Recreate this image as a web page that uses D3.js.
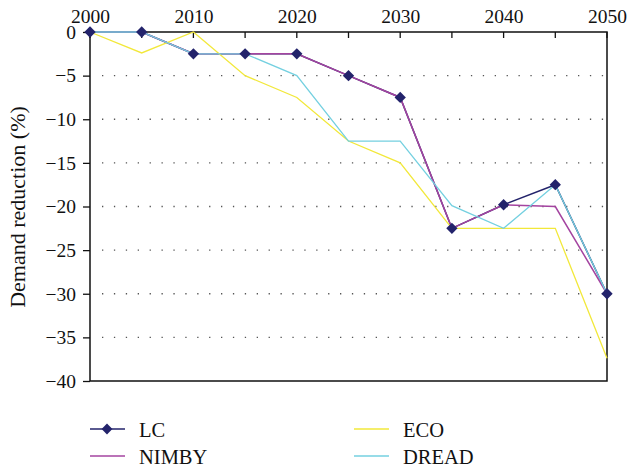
<!DOCTYPE html>
<html><head><meta charset="utf-8">
<script src="https://cdn.jsdelivr.net/npm/d3@7"></script>
<style>body{margin:0;background:#fff}text{font-family:"Liberation Serif","DejaVu Serif",serif;fill:#111}</style>
</head><body><svg id="c" width="630" height="469"></svg>
<script>
const years = [2000,2005,2010,2015,2020,2025,2030,2035,2040,2045,2050];
const lc    = [0,0,-2.5,-2.5,-2.5,-5,-7.5,-22.5,-19.8,-17.5,-30];
const nimby = [0,0,-2.5,-2.5,-2.5,-5,-7.5,-22.5,-19.8,-20,-30];
const eco   = [0,-2.4,0,-5,-7.5,-12.5,-15,-22.5,-22.5,-22.5,-37.4];
const dread = [0,0,-2.5,-2.5,-5,-12.5,-12.5,-19.9,-22.5,-17.5,-30];
const yTicks = [0,-5,-10,-15,-20,-25,-30,-35,-40];
const xLabels = [2000,2010,2020,2030,2040,2050];
const seriesNames = ["LC","NIMBY","ECO","DREAD"];
const colors = {LC:"#23236b",NIMBY:"#a444a0",ECO:"#f2e83a",DREAD:"#74d0e0"};

const svg = d3.select("#c");
const L=90,R=607,T=32,B=381;
const x = d3.scaleLinear().domain([2000,2050]).range([L,R]);
const y = d3.scaleLinear().domain([0,-40]).range([T,B]);

// grid
svg.append("g").selectAll("line").data(yTicks.filter(d=>d!==0&&d!==-40)).join("line")
  .attr("x1",L+12).attr("x2",R-2).attr("y1",d=>y(d)).attr("y2",d=>y(d))
  .attr("stroke","#555").attr("stroke-width",1.3).attr("stroke-dasharray","1.3,10.6");

// axes
const ya = svg.append("g").attr("transform",`translate(${L},0)`)
  .call(d3.axisLeft(y).tickValues(yTicks).tickSize(7).tickPadding(7).tickFormat(d=>d===0?"0":"\u2212"+Math.abs(d)));
ya.select(".domain").remove();
ya.selectAll("text").style("font-size","19.5px").attr("dy","0.32em");
const xa = svg.append("g").attr("transform",`translate(0,${T})`)
  .call(d3.axisTop(x).tickValues(years).tickSize(0).tickPadding(9).tickFormat(d=>xLabels.includes(d)?d:""));
xa.select(".domain").remove();
xa.selectAll("text").style("font-size","19.5px");
svg.append("g").selectAll("line").data(years).join("line")
  .attr("x1",d=>x(d)).attr("x2",d=>x(d)).attr("y1",T).attr("y2",T+6).attr("stroke","#111").attr("stroke-width",1.3);
svg.append("path").attr("d",`M${L},${T}H${R}V${B}H${L}Z`).attr("fill","none").attr("stroke","#111").attr("stroke-width",1.5);
svg.selectAll(".tick line").attr("stroke","#111").attr("stroke-width",1.3);

svg.append("text").attr("transform",`translate(25,207) rotate(-90)`).attr("text-anchor","middle")
  .style("font-size","22px").text("Demand reduction (%)");

const data = {LC:lc,NIMBY:nimby,ECO:eco,DREAD:dread};
const line = d3.line().x((d,i)=>x(years[i])).y(d=>y(d));
const widths = {LC:1.5,NIMBY:1.5,ECO:1.3,DREAD:1.3};
seriesNames.forEach(n=>{
  svg.append("path").attr("d",line(data[n])).attr("fill","none").attr("stroke",colors[n]).attr("stroke-width",widths[n]);
});
svg.append("g").selectAll("path").data(lc).join("path")
  .attr("transform",(d,i)=>`translate(${x(years[i])},${y(d)}) rotate(45)`)
  .attr("d",d3.symbol().type(d3.symbolSquare).size(64)).attr("fill",colors.LC);

// legend
const leg = [{n:"LC",x:90,y:429},{n:"NIMBY",x:90,y:456},{n:"ECO",x:354,y:429},{n:"DREAD",x:354,y:456}];
const lg = svg.append("g");
leg.forEach(o=>{
  lg.append("line").attr("x1",o.x).attr("x2",o.x+35).attr("y1",o.y).attr("y2",o.y).attr("stroke",colors[o.n]).attr("stroke-width",1.5);
  if(o.n==="LC") lg.append("path").attr("transform",`translate(${o.x+17},${o.y}) rotate(45)`).attr("d",d3.symbol().type(d3.symbolSquare).size(58)).attr("fill",colors.LC);
  lg.append("text").attr("x",o.x+49).attr("y",o.y+8).style("font-size","20.5px").text(o.n);
});
</script></body></html>
